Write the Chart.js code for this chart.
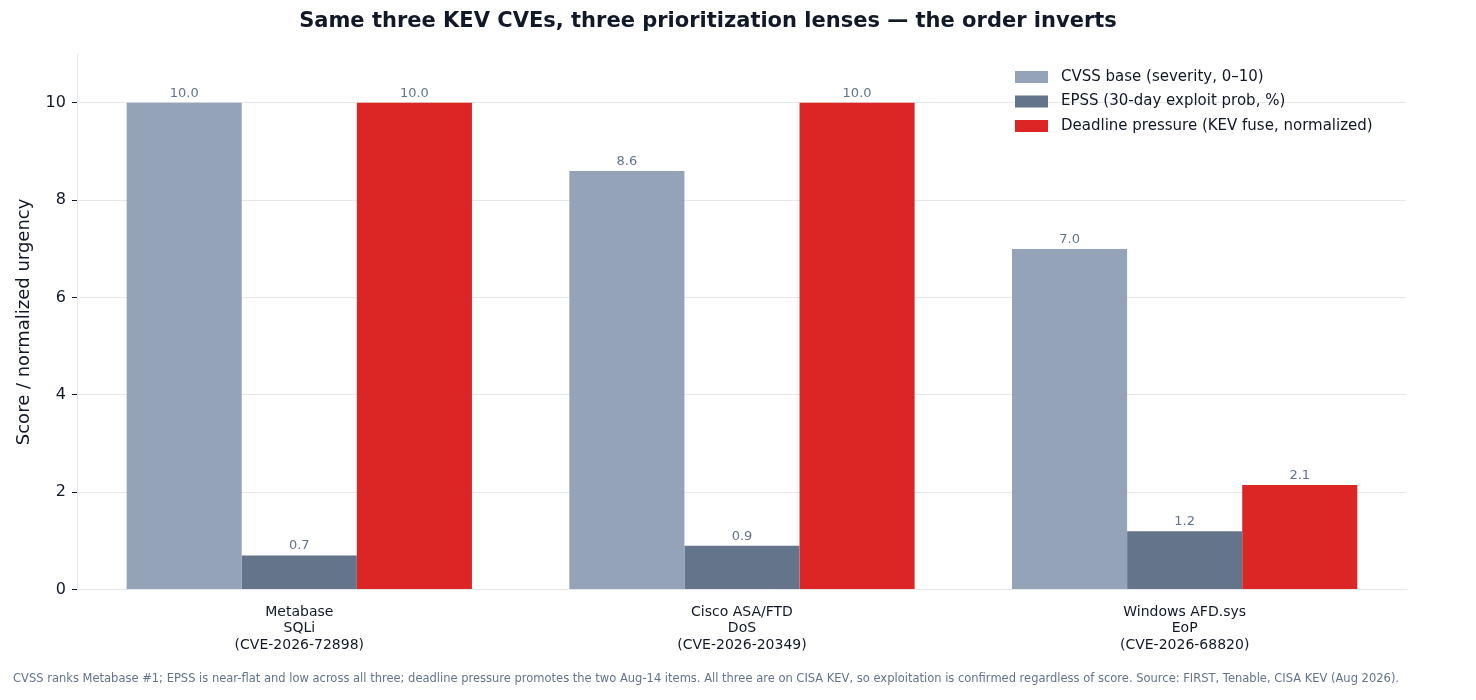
<!DOCTYPE html>
<html><head><meta charset="utf-8">
<script src="https://cdn.jsdelivr.net/npm/chart.js@4"></script>
<style>html,body{margin:0;background:#fff}#wrap{width:1476px;height:700px}</style>
</head><body><div id="wrap"><canvas id="c"></canvas></div>
<script>
const categories = [["Metabase","SQLi","(CVE-2026-72898)"],["Cisco ASA/FTD","DoS","(CVE-2026-20349)"],["Windows AFD.sys","EoP","(CVE-2026-68820)"]];
const cvss = [10.0, 8.6, 7.0];
const epss = [0.7, 0.9, 1.2];
const deadline = [10.0, 10.0, 2.15];
const seriesNames = ["CVSS base (severity, 0–10)","EPSS (30-day exploit prob, %)","Deadline pressure (KEV fuse, normalized)"];
const colors = ["#94a3b8","#64748b","#dc2626"];
const footnote = "CVSS ranks Metabase #1; EPSS is near-flat and low across all three; deadline pressure promotes the two Aug-14 items. All three are on CISA KEV, so exploitation is confirmed regardless of score. Source: FIRST, Tenable, CISA KEV (Aug 2026).";
const FONT = "'DejaVu Sans', sans-serif";

const extras = {
  id:'extras',
  afterDatasetsDraw(chart){
    const ctx = chart.ctx;
    ctx.save();
    ctx.font = "13px "+FONT; ctx.fillStyle="#64748b"; ctx.textAlign="center"; ctx.textBaseline="bottom";
    chart.data.datasets.forEach((ds,i)=>{
      chart.getDatasetMeta(i).data.forEach((bar,j)=>{
        ctx.fillText(ds.data[j].toFixed(1), bar.x, bar.y-3);
      });
    });
    // legend
    const a = chart.chartArea;
    ctx.font = "15px "+FONT; ctx.textAlign="left"; ctx.textBaseline="middle";
    seriesNames.forEach((n,i)=>{
      const y = 77 + i*24.5;
      ctx.fillStyle = colors[i]; ctx.fillRect(1015, y-6, 33, 12);
      ctx.fillStyle = "#111827"; ctx.fillText(n, 1061, y);
    });
    ctx.font = "11.5px "+FONT; ctx.fillStyle="#64748b"; ctx.textAlign="left"; ctx.textBaseline="middle";
    ctx.fillText(footnote, 13, 679);
    ctx.restore();
  }
};

new Chart(document.getElementById('c'), {
  type:'bar',
  data:{labels:categories, datasets:[
    {label:seriesNames[0], data:cvss, backgroundColor:colors[0]},
    {label:seriesNames[1], data:epss, backgroundColor:colors[1]},
    {label:seriesNames[2], data:deadline, backgroundColor:colors[2]}
  ]},
  options:{
    responsive:true, maintainAspectRatio:false, animation:false,
    datasets:{bar:{barPercentage:1, categoryPercentage:0.78}},
    layout:{padding:{left:10,right:70,bottom:40,top:5}},
    plugins:{
      legend:{display:false}, tooltip:{enabled:false},
      title:{display:true, text:"Same three KEV CVEs, three prioritization lenses — the order inverts",
        color:"#111827", font:{family:FONT, size:21, weight:'bold'}, padding:{top:4,bottom:20}}
    },
    scales:{
      x:{grid:{display:false}, border:{color:"#e5e7eb"},
        ticks:{color:"#111827", font:{family:FONT,size:14}, padding:6}},
      y:{min:0, max:11, afterBuildTicks(ax){ax.ticks=[0,2,4,6,8,10].map(v=>({value:v}));},
        grid:{color:"#e5e7eb", drawTicks:true, tickColor:"#111827", tickLength:6},
        border:{color:"#e5e7eb"},
        ticks:{color:"#111827", font:{family:FONT,size:16}, padding:6},
        title:{display:true, text:"Score / normalized urgency", color:"#111827", font:{family:FONT,size:18}}}
    }
  },
  plugins:[extras]
});
</script></body></html>
